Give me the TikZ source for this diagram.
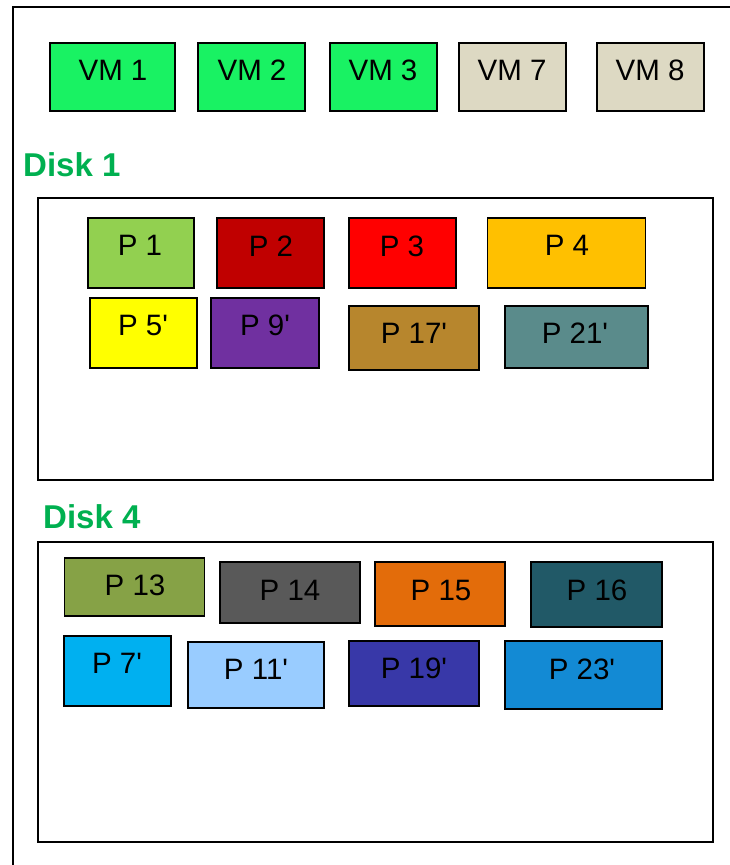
\documentclass[tikz,border=0pt]{standalone}
\usepackage{fontspec}
\setmainfont{Liberation Sans}
\usetikzlibrary{positioning}
\newcommand{\prm}{\textquotesingle}
\definecolor{vmgreen}{RGB}{25,242,99}
\definecolor{vmgrey}{RGB}{221,217,195}
\definecolor{diskgreen}{RGB}{0,176,80}
\definecolor{cpone}{RGB}{146,208,80}
\definecolor{cptwo}{RGB}{192,0,0}
\definecolor{cpthree}{RGB}{255,0,0}
\definecolor{cpfour}{RGB}{255,192,0}
\definecolor{cpfive}{RGB}{255,255,0}
\definecolor{cpnine}{RGB}{112,48,160}
\definecolor{cpseventeen}{RGB}{183,134,45}
\definecolor{cptwentyone}{RGB}{90,139,139}
\definecolor{cpthirteen}{RGB}{134,162,70}
\definecolor{cpfourteen}{RGB}{89,89,89}
\definecolor{cpfifteen}{RGB}{227,108,10}
\definecolor{cpsixteen}{RGB}{33,89,103}
\definecolor{cpseven}{RGB}{0,176,240}
\definecolor{cpeleven}{RGB}{153,204,255}
\definecolor{cpnineteen}{RGB}{56,56,168}
\definecolor{cptwentythree}{RGB}{19,138,212}
\tikzset{
    frame/.style = {draw=black, line width=1.8pt},
    disk/.style = {rectangle, draw=black, line width=1.8pt, fill=white},
    vmbox/.style = {rectangle, draw=black, line width=1.8pt, inner sep=0pt},
    pbox/.style = {rectangle, draw=black, line width=1.8pt, inner sep=0pt},
    boxtext/.style = {inner sep=0pt, font=\fontsize{29.5}{34}\selectfont},
    disklabel/.style = {inner sep=0pt, anchor=west, text=diskgreen, font=\fontsize{33}{38}\selectfont\bfseries}
}
\begin{document}
\begin{tikzpicture}[x=1pt,y=-1pt]
\useasboundingbox (0,0) rectangle (730,865);
\draw[frame] (13,7) rectangle (760,900);
%
\node[vmbox, fill=vmgreen, minimum width=125, minimum height=68] at (112.5,77) (vm1) {};
\node[vmbox, fill=vmgreen, minimum width=107, minimum height=68] at (251.5,77) (vm2) {};
\node[vmbox, fill=vmgreen, minimum width=107, minimum height=68] at (383.5,77) (vm3) {};
\node[vmbox, fill=vmgrey, minimum width=107, minimum height=68] at (512.5,77) (vm7) {};
\node[vmbox, fill=vmgrey, minimum width=107, minimum height=68] at (650.5,77) (vm8) {};
\node[boxtext] at (113,70) (vm1t) {VM 1};
\node[boxtext] at (252,70) (vm2t) {VM 2};
\node[boxtext] at (383,70) (vm3t) {VM 3};
\node[boxtext] at (512,70) (vm7t) {VM 7};
\node[boxtext] at (650,70) (vm8t) {VM 8};
%
\node[disklabel] at (23,165) (d1l) {Disk 1};
\node[disk, minimum width=675, minimum height=282] at (375.5,339) (disk1) {};
\node[pbox, fill=cpone, minimum width=106, minimum height=70] at (141,253) (p1) {};
\node[pbox, fill=cptwo, minimum width=107, minimum height=70] at (270.5,253) (p2) {};
\node[pbox, fill=cpthree, minimum width=107, minimum height=70] at (402.5,253) (p3) {};
\node[pbox, fill=cpfour, minimum width=158, minimum height=70] at (566.5,253) (p4) {};
\node[pbox, fill=cpfive, minimum width=107, minimum height=70] at (143.5,333) (p5) {};
\node[pbox, fill=cpnine, minimum width=108, minimum height=70] at (265,333) (p9) {};
\node[pbox, fill=cpseventeen, minimum width=130, minimum height=64] at (414,338) (p17) {};
\node[pbox, fill=cptwentyone, minimum width=143, minimum height=62] at (576.5,337) (p21) {};
\node[boxtext] at (140,245) (p1t) {P 1};
\node[boxtext] at (271,246) (p2t) {P 2};
\node[boxtext] at (402,246) (p3t) {P 3};
\node[boxtext] at (567,245) (p4t) {P 4};
\node[boxtext] at (143,325) (p5t) {P 5\prm};
\node[boxtext] at (265,325) (p9t) {P 9\prm};
\node[boxtext] at (414,333) (p17t) {P 17\prm};
\node[boxtext] at (575,333) (p21t) {P 21\prm};
%
\node[disklabel] at (43,517) (d4l) {Disk 4};
\node[disk, minimum width=675, minimum height=300] at (375.5,692) (disk4) {};
\node[pbox, fill=cpthirteen, minimum width=140, minimum height=58] at (134.5,587) (p13) {};
\node[pbox, fill=cpfourteen, minimum width=140, minimum height=61] at (290,592.5) (p14) {};
\node[pbox, fill=cpfifteen, minimum width=130, minimum height=64] at (440,594) (p15) {};
\node[pbox, fill=cpsixteen, minimum width=131, minimum height=65] at (596.5,594.5) (p16) {};
\node[pbox, fill=cpseven, minimum width=107, minimum height=70] at (117.5,671) (p7) {};
\node[pbox, fill=cpeleven, minimum width=136, minimum height=66] at (256,675) (p11) {};
\node[pbox, fill=cpnineteen, minimum width=130, minimum height=65] at (414,673.5) (p19) {};
\node[pbox, fill=cptwentythree, minimum width=157, minimum height=68] at (583.5,675) (p23) {};
\node[boxtext] at (135,585) (p13t) {P 13};
\node[boxtext] at (290,590) (p14t) {P 14};
\node[boxtext] at (441,590) (p15t) {P 15};
\node[boxtext] at (597,590) (p16t) {P 16};
\node[boxtext] at (117,663) (p7t) {P 7\prm};
\node[boxtext] at (256,669) (p11t) {P 11\prm};
\node[boxtext] at (414,668) (p19t) {P 19\prm};
\node[boxtext] at (582,669) (p23t) {P 23\prm};
\end{tikzpicture}
\end{document}
